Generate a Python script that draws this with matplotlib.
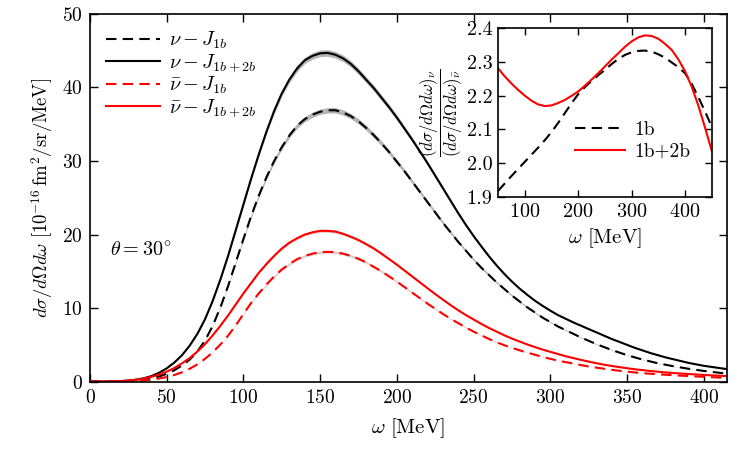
import numpy as np
import matplotlib
matplotlib.use("Agg")
import matplotlib.pyplot as plt

plt.rcParams['font.family'] = 'serif'
plt.rcParams['font.serif'] = ['cmr10', 'DejaVu Serif']
plt.rcParams['mathtext.fontset'] = 'cm'
plt.rcParams['axes.formatter.use_mathtext'] = True

# ---- main panel data (omega in MeV, cross section in 1e-16 fm^2/sr/MeV)
omega = list(range(0, 420, 5))

nu_1b2b = [0, 0.0, 0.01, 0.03, 0.07, 0.14, 0.26, 0.45, 0.75, 1.2,
           1.8, 2.6, 3.6, 4.9, 6.5, 8.5, 11.0, 13.9, 17.1, 20.6,
           24.1, 27.6, 30.9, 34.0, 36.8, 39.2, 41.1, 42.6, 43.7, 44.3,
           44.65, 44.7, 44.45, 43.95, 43.2, 42.2, 41.05, 39.9, 38.6, 37.3,
           35.9, 34.4, 32.9, 31.3, 29.7, 28.0, 26.3, 24.6, 22.9, 21.3,
           19.8, 18.4, 17.05, 15.8, 14.65, 13.6, 12.65, 11.8, 11.0, 10.3,
           9.65, 9.05, 8.55, 8.05, 7.6, 7.15, 6.7, 6.25, 5.8, 5.4,
           5.0, 4.6, 4.25, 3.9, 3.6, 3.3, 3.05, 2.8, 2.55, 2.35,
           2.15, 2.0, 1.85, 1.7]

nu_1b = [0, 0.0, 0.01, 0.02, 0.04, 0.08, 0.15, 0.26, 0.43, 0.7,
         1.05, 1.55, 2.2, 3.0, 4.1, 5.6, 7.6, 10.1, 13.0, 16.2,
         19.4, 22.5, 25.3, 27.8, 30.0, 31.9, 33.5, 34.8, 35.7, 36.3,
         36.7, 36.9, 36.9, 36.6, 36.1, 35.4, 34.5, 33.5, 32.4, 31.2,
         29.9, 28.6, 27.2, 25.8, 24.4, 23.0, 21.6, 20.3, 19.0, 17.8,
         16.6, 15.5, 14.5, 13.5, 12.6, 11.7, 10.9, 10.1, 9.4, 8.7,
         8.1, 7.5, 7.0, 6.5, 6.0, 5.55, 5.1, 4.7, 4.3, 3.95,
         3.6, 3.3, 3.0, 2.75, 2.5, 2.3, 2.1, 1.92, 1.75, 1.6,
         1.45, 1.33, 1.2, 1.1]

nubar_1b2b = [0, 0.0, 0.01, 0.03, 0.07, 0.14, 0.25, 0.42, 0.65, 0.95,
              1.35, 1.85, 2.5, 3.2, 4.1, 5.1, 6.3, 7.6, 9.0, 10.5,
              12.0, 13.4, 14.8, 16.0, 17.1, 18.1, 18.9, 19.5, 20.0, 20.3,
              20.5, 20.5, 20.4, 20.1, 19.7, 19.25, 18.7, 18.1, 17.4, 16.65,
              15.9, 15.1, 14.3, 13.5, 12.7, 11.9, 11.15, 10.4, 9.7, 9.05,
              8.45, 7.85, 7.3, 6.8, 6.3, 5.85, 5.45, 5.05, 4.7, 4.35,
              4.05, 3.75, 3.45, 3.2, 2.95, 2.72, 2.5, 2.3, 2.13, 1.97,
              1.82, 1.68, 1.56, 1.45, 1.35, 1.25, 1.17, 1.1, 1.03, 0.97,
              0.91, 0.85, 0.8, 0.75]

nubar_1b = [0, 0.0, 0.0, 0.01, 0.02, 0.05, 0.09, 0.16, 0.27, 0.42,
            0.62, 0.9, 1.27, 1.75, 2.35, 3.1, 4.0, 5.05, 6.25, 7.65,
            9.2, 10.7, 12.0, 13.2, 14.3, 15.25, 16.0, 16.65, 17.1, 17.4,
            17.6, 17.65, 17.6, 17.4, 17.1, 16.7, 16.2, 15.6, 15.0, 14.3,
            13.6, 12.85, 12.1, 11.35, 10.6, 9.9, 9.2, 8.55, 7.95, 7.35,
            6.8, 6.3, 5.8, 5.35, 4.95, 4.6, 4.25, 3.95, 3.65, 3.35,
            3.1, 2.85, 2.65, 2.45, 2.25, 2.05, 1.9, 1.75, 1.6, 1.47,
            1.35, 1.25, 1.15, 1.07, 1.0, 0.93, 0.87, 0.81, 0.76, 0.7,
            0.65, 0.6, 0.55, 0.5]

band_frac = 0.01  # relative half-width of the uncertainty bands

# ---- inset data (ratio nu / nubar)
omega_in = [50, 62.5, 75, 87.5, 100, 112.5, 125, 137.5, 150, 162.5, 175,
            187.5, 200, 212.5, 225, 237.5, 250, 262.5, 275, 287.5, 300,
            312.5, 325, 337.5, 350, 362.5, 375, 387.5, 400, 412.5, 425,
            437.5, 450]
ratio_1b = [1.918, 1.940, 1.962, 1.983, 2.004, 2.025, 2.046, 2.068, 2.092,
            2.119, 2.148, 2.177, 2.204, 2.225, 2.243, 2.260, 2.276, 2.293,
            2.308, 2.320, 2.328, 2.332, 2.333, 2.330, 2.322, 2.312, 2.298,
            2.284, 2.266, 2.235, 2.195, 2.153, 2.108]
ratio_1b2b = [2.281, 2.257, 2.236, 2.217, 2.200, 2.185, 2.174, 2.169, 2.171,
              2.178, 2.187, 2.199, 2.212, 2.229, 2.247, 2.266, 2.286, 2.306,
              2.325, 2.344, 2.360, 2.372, 2.378, 2.376, 2.368, 2.353, 2.335,
              2.307, 2.272, 2.226, 2.170, 2.105, 2.037]

xticks_main = [0, 50, 100, 150, 200, 250, 300, 350, 400]
yticks_main = [0, 10, 20, 30, 40, 50]
xticks_in = [100, 200, 300, 400]
yticks_in = [1.9, 2.0, 2.1, 2.2, 2.3, 2.4]

fig = plt.figure(figsize=(7.5, 4.5), dpi=100)
ax = fig.add_axes([0.12, 0.152, 0.849, 0.817])

w = np.array(omega)
dash = (0, (5, 3))
for vals, col, ls, lab, bandcol in [
        (nu_1b, 'black', dash, r'$\nu - J_{1b}$', '#b4b4b4'),
        (nu_1b2b, 'black', '-', r'$\nu - J_{1b+2b}$', '#b4b4b4'),
        (nubar_1b, 'red', dash, r'$\bar{\nu} - J_{1b}$', '#e0cccc'),
        (nubar_1b2b, 'red', '-', r'$\bar{\nu} - J_{1b+2b}$', '#e0cccc')]:
    v = np.array(vals)
    ax.fill_between(w, v * (1 - band_frac), v * (1 + band_frac),
                    color=bandcol, lw=0, zorder=1)
    ax.plot(w, v, color=col, ls=ls, lw=1.5, label=lab, zorder=2)

ax.set_xlim(0, 415)
ax.set_ylim(0, 50)
ax.set_xticks(xticks_main)
ax.set_yticks(yticks_main)
ax.tick_params(direction='in', top=True, right=True, labelsize=14,
               length=6, width=1, pad=5)
for s in ax.spines.values():
    s.set_linewidth(1.2)
ax.set_xlabel(r'$\omega\ [\mathrm{MeV}]$', fontsize=15, labelpad=7)
ax.set_ylabel(r'$d\sigma/d\Omega d\omega\ [10^{-16}\,\mathrm{fm}^2/\mathrm{sr}/\mathrm{MeV}]$',
              fontsize=13.5, labelpad=5)
ax.text(13, 17.9, r'$\theta = 30^{\circ}$', fontsize=14.5, va='center')
ax.legend(loc='upper left', frameon=False, fontsize=14.5, handlelength=2.7,
          labelspacing=0.05, borderaxespad=0.4, handletextpad=0.4)

# ---- inset
axi = fig.add_axes([0.664, 0.562, 0.285, 0.376])
axi.plot(omega_in, ratio_1b, color='black', ls=dash, lw=1.5, label='1b')
axi.plot(omega_in, ratio_1b2b, color='red', ls='-', lw=1.5, label='1b+2b')
axi.set_xlim(50, 450)
axi.set_ylim(1.9, 2.4)
axi.set_xticks(xticks_in)
axi.set_yticks(yticks_in)
axi.set_yticklabels([f'{t:.1f}' for t in yticks_in])
axi.tick_params(direction='in', top=True, right=True, labelsize=14.5,
                length=5, width=1, pad=4)
for s in axi.spines.values():
    s.set_linewidth(1.2)
axi.set_xlabel(r'$\omega\ [\mathrm{MeV}]$', fontsize=15, labelpad=4)
axi.set_ylabel(r'$\dfrac{(d\sigma/d\Omega d\omega)_{\nu}}{(d\sigma/d\Omega d\omega)_{\bar{\nu}}}$',
               fontsize=12, labelpad=1)
axi.legend(loc='lower right', bbox_to_anchor=(0.98, 0.11), frameon=False,
           fontsize=14, handlelength=2.6, labelspacing=0.2,
           handletextpad=0.45)

fig.savefig('out.png', dpi=100)
